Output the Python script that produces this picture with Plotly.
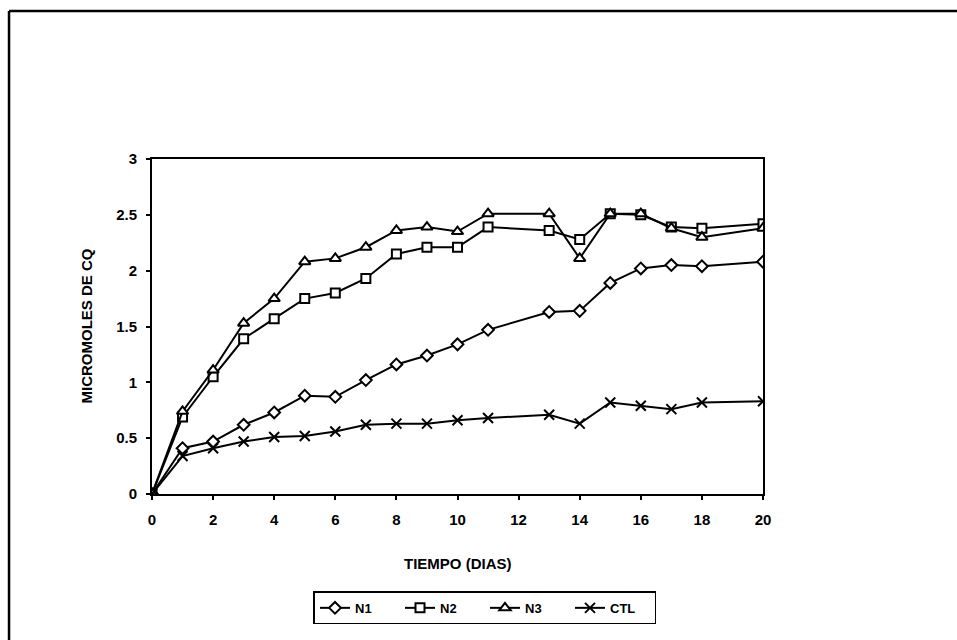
import plotly.graph_objects as go

# Days sampled (no readings on day 12 or 19)
dias = [0, 1, 2, 3, 4, 5, 6, 7, 8, 9, 10, 11, 13, 14, 15, 16, 17, 18, 20]

n1 = [0, 0.41, 0.47, 0.62, 0.73, 0.88, 0.87, 1.02, 1.16, 1.24, 1.34, 1.47, 1.63, 1.64, 1.89, 2.02, 2.05, 2.04, 2.08]
n2 = [0, 0.69, 1.05, 1.39, 1.57, 1.75, 1.80, 1.93, 2.15, 2.21, 2.21, 2.39, 2.36, 2.28, 2.51, 2.50, 2.39, 2.38, 2.42]
n3 = [0, 0.74, 1.11, 1.53, 1.75, 2.08, 2.11, 2.21, 2.36, 2.39, 2.35, 2.51, 2.51, 2.11, 2.51, 2.51, 2.38, 2.30, 2.38]
ctl = [0, 0.34, 0.41, 0.47, 0.51, 0.52, 0.56, 0.62, 0.63, 0.63, 0.66, 0.68, 0.71, 0.63, 0.82, 0.79, 0.76, 0.82, 0.83]

# name, values, marker symbol, size, fill colour
series = [
    ("N1", n1, "diamond", 9, "white"),
    ("N2", n2, "square", 9, "white"),
    ("N3", n3, "triangle-up", 10, "white"),
    ("CTL", ctl, "x-thin", 10, "black"),
]

FONT = "Liberation Sans, Arial, sans-serif"

fig = go.Figure()
for name, vals, sym, size, fill in series:
    fig.add_trace(go.Scatter(
        x=dias, y=vals, name=name, mode="lines+markers",
        line=dict(color="black", width=2),
        marker=dict(symbol=sym, size=size, color=fill,
                    line=dict(color="black", width=2)),
    ))

axis_common = dict(
    showline=True, linecolor="black", linewidth=2, mirror=True,
    showgrid=False, zeroline=False,
    ticks="outside", ticklen=4, tickwidth=1.5, tickcolor="black",
    tickfont=dict(family=FONT, size=15, color="black", weight="bold"),
)

fig.update_xaxes(range=[0, 20], dtick=2, tick0=0, ticklabelstandoff=7, **axis_common)
fig.update_yaxes(range=[0, 3], dtick=0.5, tick0=0, ticklabelstandoff=6, **axis_common)

fig.update_layout(
    width=957, height=640,
    margin=dict(l=152, r=194, t=159, b=146),
    paper_bgcolor="white", plot_bgcolor="white",
    showlegend=True,
    legend=dict(
        orientation="h", x=0.545, xanchor="center", y=-0.34, yanchor="middle",
        bordercolor="black", borderwidth=1.5, bgcolor="white",
        font=dict(family=FONT, size=13, color="black", weight="bold"),
        itemwidth=30, tracegroupgap=0, entrywidth=40,
    ),
    annotations=[
        dict(text="TIEMPO (DIAS)", xref="paper", yref="paper", x=0.5, y=-0.206,
             showarrow=False, xanchor="center", yanchor="middle",
             font=dict(family=FONT, size=15, color="black", weight="bold")),
        dict(text="MICROMOLES DE CQ", xref="paper", yref="paper", x=-0.108, y=0.5,
             showarrow=False, xanchor="center", yanchor="middle", textangle=-90,
             font=dict(family=FONT, size=15, color="black", weight="bold")),
    ],
    shapes=[
        # page frame (left and top edges)
        dict(type="line", xref="paper", yref="paper", x0=-0.234, x1=-0.234, y0=1.442, y1=-0.44,
             line=dict(color="black", width=2.5)),
        dict(type="line", xref="paper", yref="paper", x0=-0.234, x1=1.32, y0=1.442, y1=1.442,
             line=dict(color="black", width=2.5)),
    ],
)

fig.write_html("out.html")
